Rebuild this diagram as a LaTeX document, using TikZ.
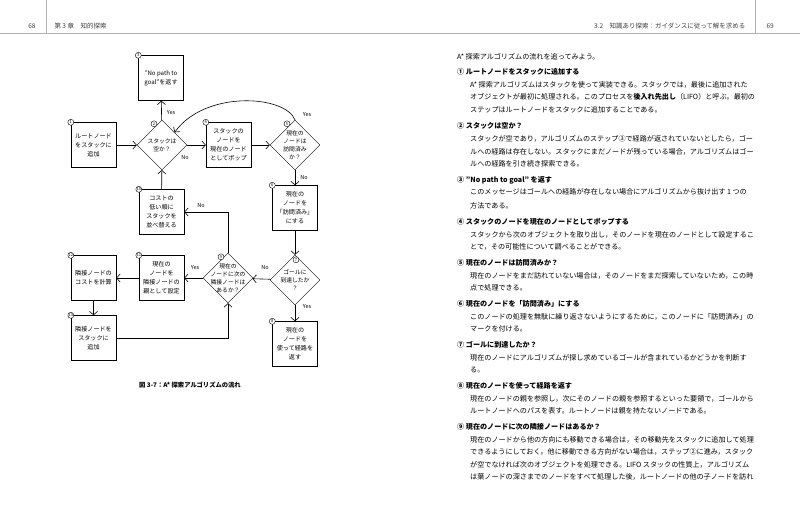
\documentclass[tikz,border=0pt]{standalone}
\usepackage{fontspec}
\setmainfont{Noto Sans CJK JP}
\usetikzlibrary{arrows.meta, positioning, shapes.geometric}

\begin{document}
\begin{tikzpicture}[
    x=1pt, y=-1pt,
    box/.style={
        draw,
        rectangle,
        align=center,
        minimum width=45pt,
        minimum height=45pt,
        inner sep=1pt,
        font=\fontsize{6.1}{9}\selectfont
    },
    decision/.style={
        draw,
        diamond,
        align=center,
        minimum width=50pt,
        minimum height=50pt,
        inner sep=-7pt,
        font=\fontsize{5.8}{8}\selectfont
    },
    num/.style={
        draw,
        circle,
        fill=white,
        minimum size=6pt,
        inner sep=0pt,
        font=\fontsize{4}{4}\selectfont
    },
    lbl/.style={font=\fontsize{5.5}{6}\selectfont},
    arrow/.style={-{Straight Barb[length=3.5pt,width=8pt]}, semithick},
    line/.style={anchor=base west, inner sep=0pt, font=\fontsize{7.1}{8}\selectfont},
    head/.style={anchor=base west, inner sep=0pt, font=\fontsize{7.1}{8}\selectfont\bfseries}
]
\useasboundingbox (0,0) rectangle (800,505);

% Header
\draw[gray!60] (0,33) -- (800,33);
\draw[gray!60] (46,0) -- (46,33);
\draw[gray!60] (755,0) -- (755,33);
\node[anchor=base east, font=\fontsize{6.5}{7}\selectfont, text=black!75] (pl) at (39,29) {68};
\node[anchor=base west, font=\fontsize{6.5}{7}\selectfont, text=black!75] (cl) at (51,29) {第 3 章\quad 知的探索};
\node[anchor=base east, font=\fontsize{6.5}{7}\selectfont, text=black!75] (cr) at (749,29) {3.2\quad 知識あり探索：ガイダンスに従って解を求める};
\node[anchor=base west, font=\fontsize{6.5}{7}\selectfont, text=black!75] (pr) at (763,29) {69};

% Flowchart
\node[box] (b3) at (161,78) {"No path to\\goal"を返す};
\node[box] (b1) at (93.5,145) {ルートノード\\をスタックに\\追加};
\node[decision] (d2) at (162,145) {スタックは\\空か？};
\node[box] (b4) at (228.5,145) {スタックの\\ノードを\\現在のノード\\としてポップ};
\node[decision] (d5) at (295,145) {現在の\\ノードは\\訪問済み\\か？};
\node[box] (b6) at (295,208) {現在の\\ノードを\\「訪問済み」\\にする};
\node[decision] (d7) at (295,280) {ゴールに\\到達したか\\？};
\node[box] (b8) at (295,344) {現在の\\ノードを\\使って経路を\\返す};
\node[decision] (d9) at (228,278) {現在の\\ノードに次の\\隣接ノードは\\あるか？};
\node[box] (b11) at (161.5,278) {現在の\\ノードを\\隣接ノードの\\親として設定};
\node[box] (b12) at (93.5,278) {隣接ノードの\\コストを計算};
\node[box] (b13) at (93.5,338) {隣接ノードを\\スタックに\\追加};
\node[box] (b10) at (161.5,212) {コストの\\低い順に\\スタックを\\並べ替える};

% Numbers
\node[num] (n1) at (b1.north west) {1};
\node[num] (n3) at (b3.north west) {3};
\node[num] (n4) at (b4.north west) {4};
\node[num] (n6) at (b6.north west) {6};
\node[num] (n8) at (b8.north west) {8};
\node[num] (n10) at (b10.north west) {10};
\node[num] (n11) at (b11.north west) {11};
\node[num] (n12) at (b12.north west) {12};
\node[num] (n13) at (b13.north west) {13};
\node[num] (n2) at ([xshift=-8pt,yshift=-4pt]d2.north) {2};
\node[num] (n5) at ([xshift=-8pt,yshift=-4pt]d5.north) {5};
\node[num] (n7) at ([xshift=1pt,yshift=-5pt]d7.north) {7};
\node[num] (n9) at ([xshift=-7pt,yshift=-4pt]d9.north) {9};

% Arrows
\draw[arrow] (b1) -- (d2);
\draw[arrow] (d2) -- (b3);
\draw[arrow] (d2) -- (b4);
\draw[arrow] (b4) -- (d5);
\draw[arrow] (d5.north) .. controls (285,95) and (205,90) .. (d2.north east);
\draw[arrow] (d5) -- (b6);
\draw[arrow] (b6) -- (d7);
\draw[arrow] (d7) -- (b8);
\draw[arrow] (d7) -- (d9);
\draw[arrow] (d9) -- (b11);
\draw[arrow] (b11) -- (b12);
\draw[arrow] (b12) -- (b13);
\draw[arrow] (d9.north) |- (b10.east);
\draw[arrow] (b13.east) -| (d9.south);
\draw[arrow] (b10) -- (d2);

% Labels
\node[lbl] (y3) at (171,113) {Yes};
\node[lbl] (n4l) at (185,158) {No};
\node[lbl] (y5) at (307,115) {Yes};
\node[lbl] (n6l) at (304,178) {No};
\node[lbl] (y8) at (307,307) {Yes};
\node[lbl] (n9l) at (265,268) {No};
\node[lbl] (y11) at (195,268) {Yes};
\node[lbl] (n10l) at (201,206) {No};

% Caption
\node[font=\fontsize{6.3}{7}\selectfont\bfseries] (cap) at (190,385) {図 3-7：A* 探索アルゴリズムの流れ};

% Right page
\node[line] (intro) at (457,60) {A* 探索アルゴリズムの流れを追ってみよう。};
\foreach \n/\y/\t in {
    ①/75/ルートノードをスタックに追加する,
    ②/129/スタックは空か？,
    ③/183/"No path to goal" を返す,
    ④/224/スタックのノードを現在のノードとしてポップする,
    ⑤/265/現在のノードは訪問済みか？,
    ⑥/306/現在のノードを「訪問済み」にする,
    ⑦/347/ゴールに到達したか？,
    ⑧/388/現在のノードを使って経路を返す,
    ⑨/429/現在のノードに次の隣接ノードはあるか？}
    \node[head] (h\y) at (457,\y) {\n\ \t};
\foreach \y/\t in {
    88/A* 探索アルゴリズムはスタックを使って実装できる。スタックでは，最後に追加された,
    100/オブジェクトが最初に処理される。このプロセスを\textbf{後入れ先出し}（LIFO）と呼ぶ。最初の,
    113/ステップはルートノードをスタックに追加することである。,
    142/スタックが空であり，アルゴリズムのステップ③で経路が返されていないとしたら，ゴー,
    155/ルへの経路は存在しない。スタックにまだノードが残っている場合，アルゴリズムはゴー,
    167/ルへの経路を引き続き探索できる。,
    195/このメッセージはゴールへの経路が存在しない場合にアルゴリズムから抜け出す 1 つの,
    208/方法である。,
    237/スタックから次のオブジェクトを取り出し，そのノードを現在のノードとして設定するこ,
    249/とで，その可能性について調べることができる。,
    278/現在のノードをまだ訪れていない場合は，そのノードをまだ探索していないため，この時,
    290/点で処理できる。,
    319/このノードの処理を無駄に繰り返さないようにするために，このノードに「訪問済み」の,
    331/マークを付ける。,
    360/現在のノードにアルゴリズムが探し求めているゴールが含まれているかどうかを判断す,
    372/る。,
    401/現在のノードの親を参照し，次にそのノードの親を参照するといった要領で，ゴールから,
    413/ルートノードへのパスを表す。ルートノードは親を持たないノードである。,
    442/現在のノードから他の方向にも移動できる場合は，その移動先をスタックに追加して処理,
    454/できるようにしておく。他に移動できる方向がない場合は，ステップ②に進み，スタック,
    467/が空でなければ次のオブジェクトを処理できる。LIFO スタックの性質上，アルゴリズム,
    479/は葉ノードの深さまでのノードをすべて処理した後，ルートノードの他の子ノードを訪れ}
    \node[line] (t\y) at (470,\y) {\t};

\end{tikzpicture}
\end{document}
